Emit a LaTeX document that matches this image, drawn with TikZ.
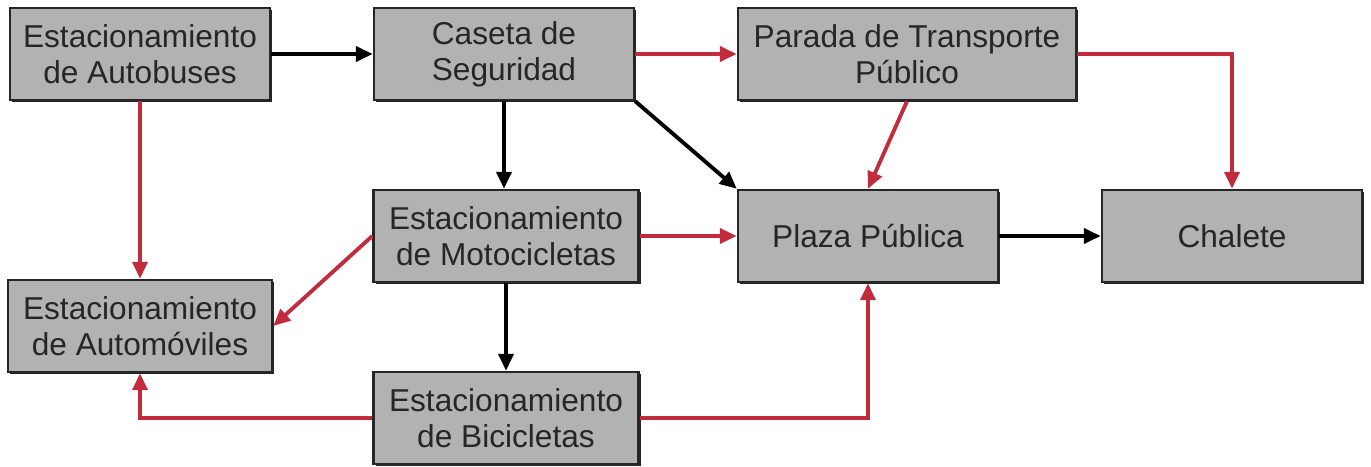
\documentclass[tikz,border=0pt]{standalone}
\usepackage{fontspec}
\setmainfont{Liberation Sans}
\usetikzlibrary{arrows.meta,positioning,shadows}
\definecolor{rojo}{RGB}{192,44,60}

\begin{document}
\begin{tikzpicture}[
  >={Triangle[length=0.34cm,width=0.3cm]},
  zona/.style={rectangle, draw=black!85, line width=1.4pt, fill=black!30,
               minimum width=5.2cm, minimum height=1.84cm, inner sep=2pt,
               align=center, text=black!85,
               font=\fontsize{18}{20.5}\selectfont,
               drop shadow={shadow xshift=1.4pt, shadow yshift=-1.4pt, fill=black!85, opacity=1}},
  flujo/.style={->, line width=2.2pt, black},
  alt/.style={->, line width=2.2pt, rojo}]
\useasboundingbox (0,0) rectangle (27.42,-9.32);
% top row
\node[zona] (bus) at (2.8,-1.08)    {Estacionamiento\\de Autobuses};
\node[zona] (caseta) at (10.08,-1.08) {Caseta de\\Seguridad};
\node[zona, minimum width=6.76cm] (parada) at (18.14,-1.08) {Parada de Transporte\\Público};
% middle row
\node[zona, minimum width=5.3cm] (moto) at (10.12,-4.72) {Estacionamiento\\de Motocicletas};
\node[zona] (plaza) at (17.36,-4.72)  {Plaza Pública};
\node[zona] (chalete) at (24.64,-4.72) {Chalete};
% bottom rows
\node[zona, minimum width=5.28cm] (auto) at (2.8,-6.52) {Estacionamiento\\de Automóviles};
\node[zona, minimum width=5.3cm] (bici) at (10.12,-8.36) {Estacionamiento\\de Bicicletas};
% black connectors
\draw[flujo] (bus) -- (caseta);
\draw[flujo] (caseta.south) -- (caseta.south |- moto.north);
\draw[flujo] (caseta.south east) -- (plaza.north west);
\draw[flujo] (moto.south) -- (bici.north);
\draw[flujo] (plaza) -- (chalete);
% red connectors
\draw[alt] (caseta) -- (parada);
\draw[alt] (parada.south) -- (plaza.north);
\draw[alt] (parada.east) -| (chalete.north);
\draw[alt] (bus.south) -- (auto.north);
\draw[alt] (moto.west) -- (auto.east);
\draw[alt] (moto) -- (plaza);
\draw[alt] (bici.west) -| (auto.south);
\draw[alt] (bici.east) -| (plaza.south);
\end{tikzpicture}
\end{document}
